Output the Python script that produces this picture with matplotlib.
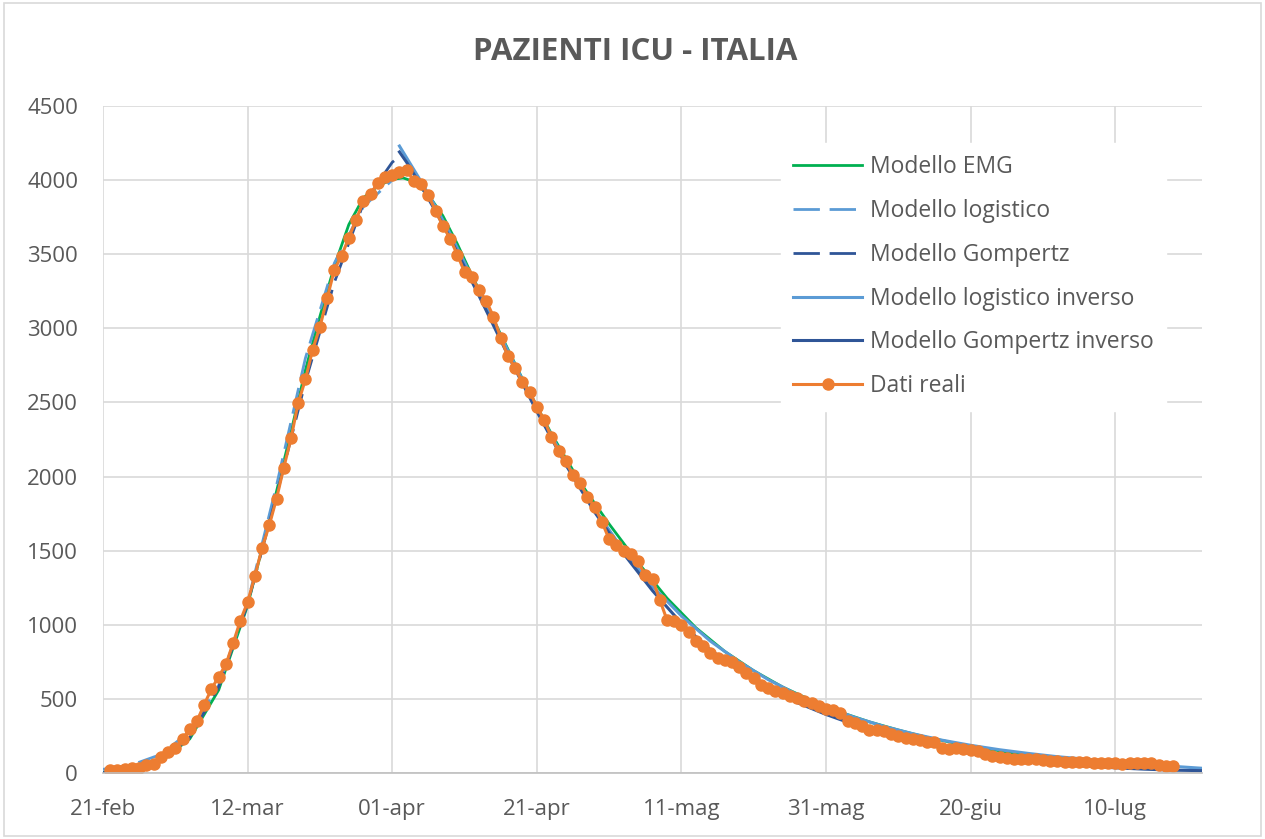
import matplotlib
matplotlib.use("Agg")
import matplotlib.pyplot as plt
import pandas as pd
from matplotlib.patches import Rectangle

plt.rcParams["font.family"] = ["Open Sans", "DejaVu Sans"]

# pazienti in terapia intensiva, un valore al giorno dal 22-feb al 18-lug
inizio_dati = "2020-02-22"
dati_reali = [
    17, 22, 26, 35, 36, 56, 64, 105, 140, 166,
    229, 295, 351, 462, 567, 650, 733, 877, 1028, 1153,
    1328, 1518, 1672, 1851, 2060, 2257, 2498, 2655, 2857, 3009,
    3204, 3396, 3489, 3612, 3732, 3856, 3906, 3981, 4023, 4035,
    4053, 4068, 3994, 3977, 3898, 3792, 3693, 3605, 3497, 3381,
    3343, 3260, 3186, 3079, 2936, 2812, 2733, 2635, 2573, 2471,
    2384, 2267, 2173, 2102, 2009, 1956, 1863, 1795, 1694, 1578,
    1539, 1501, 1479, 1427, 1333, 1311, 1168, 1034, 1027, 999,
    952, 893, 855, 808, 775, 762, 749, 716, 676, 640,
    595, 572, 553, 541, 521, 505, 489, 475, 450, 435,
    424, 408, 353, 338, 316, 293, 287, 283, 263, 249,
    236, 227, 220, 209, 207, 168, 163, 168, 161, 152,
    148, 127, 115, 107, 103, 97, 94, 93, 94, 87,
    82, 79, 77, 74, 71, 71, 69, 67, 65, 65,
    64, 65, 67, 66, 65, 54, 50, 48,
]

# curve dei modelli: giorni dal 21-feb e valori
giorni_emg = [0, 4, 8, 12, 16, 20, 24, 26, 28, 30, 32, 34, 36, 38, 40, 41.5, 43, 45, 47, 49,
              51, 54, 58, 62, 66, 70, 74, 78, 82, 86, 90, 94, 98, 102, 106, 110, 114, 118,
              122, 126, 130, 134, 138, 142, 146, 148]
emg = [5, 25, 80, 230, 560, 1130, 1900, 2300, 2720, 3080, 3420, 3700, 3880, 3960, 4005, 4015,
       3990, 3900, 3760, 3570, 3360, 3060, 2660, 2290, 1960, 1680, 1420, 1180, 980, 820, 690,
       580, 490, 410, 345, 290, 240, 200, 165, 135, 110, 92, 78, 66, 56, 52]

giorni_crescita = [0, 4, 8, 12, 16, 20, 24, 28, 32, 36, 40, 41]
logistico = [25, 55, 125, 280, 590, 1150, 1940, 2800, 3440, 3820, 4000, 4030]
gompertz = [3, 20, 80, 240, 580, 1140, 1870, 2640, 3310, 3840, 4120, 4160]

giorni_calo = [41, 42, 44, 46, 48, 52, 56, 60, 64, 68, 72, 76, 80, 84, 88, 92, 96, 100, 104,
               108, 112, 116, 120, 124, 128, 132, 136, 140, 144, 148, 152]
logistico_inv = [4230, 4150, 3990, 3820, 3640, 3250, 2850, 2460, 2100, 1780, 1500, 1260, 1060,
                 890, 750, 630, 530, 445, 375, 315, 265, 222, 187, 157, 132, 110, 93, 78, 62,
                 45, 32]
gompertz_inv = [4190, 4120, 3960, 3790, 3610, 3220, 2820, 2440, 2080, 1760, 1480, 1230, 1010,
                830, 690, 575, 475, 395, 325, 265, 215, 170, 130, 100, 78, 60, 46, 35, 26,
                19, 16]

tick_giorni = [0, 20, 40, 60, 80, 100, 120, 140]
tick_etichette = ["21-feb", "12-mar", "01-apr", "21-apr", "11-mag", "31-mag", "20-giu", "10-lug"]
fine_asse = 152

base = pd.Timestamp("2020-02-21")


def to_date(giorni):
    return base + pd.to_timedelta(giorni, unit="D")


date_dati = pd.date_range(inizio_dati, periods=len(dati_reali), freq="D")

fig = plt.figure(figsize=(12.65, 8.39), dpi=100)
ax = fig.add_axes([103 / 1265, 1 - 773 / 839, 1099 / 1265, 667 / 839])

verde = "#00B050"
azzurro = "#5B9BD5"
blu = "#2F5597"
arancio = "#ED7D31"

ax.plot(to_date(giorni_emg), emg, color=verde, lw=2.0, label="Modello EMG")
ax.plot(to_date(giorni_crescita), logistico, color=azzurro, lw=2.0, dashes=(9.5, 3.5),
        label="Modello logistico")
ax.plot(to_date(giorni_crescita), gompertz, color=blu, lw=2.0, dashes=(9.5, 3.5),
        label="Modello Gompertz")
ax.plot(to_date(giorni_calo), logistico_inv, color=azzurro, lw=2.2, label="Modello logistico inverso")
ax.plot(to_date(giorni_calo), gompertz_inv, color=blu, lw=2.2, label="Modello Gompertz inverso")
ax.plot(date_dati, dati_reali, color=arancio, lw=2.2, marker="o", ms=8, label="Dati reali")

ax.set_xlim(to_date(0), to_date(fine_asse))
ax.set_ylim(0, 4500)
ax.set_yticks(range(0, 4501, 500))
ax.set_xticks(to_date(tick_giorni))
ax.set_xticklabels(tick_etichette)

ax.set_axisbelow(True)
ax.grid(True, color="#d9d9d9", lw=1.2)
for lato in ["top", "right", "left"]:
    ax.spines[lato].set_visible(False)
ax.spines["bottom"].set_color("#bfbfbf")
ax.spines["bottom"].set_linewidth(1.2)
ax.tick_params(axis="both", length=0, labelsize=16, labelcolor="#595959")
ax.tick_params(axis="y", pad=18)
ax.tick_params(axis="x", pad=19)

leg = ax.legend(loc="upper right", bbox_to_anchor=(0.978, 0.962), fontsize=16.5, frameon=True,
                fancybox=False, edgecolor="white", framealpha=1, handlelength=3.0,
                handletextpad=0.35, labelspacing=0.86, borderpad=0.55)
for t in leg.get_texts():
    t.set_color("#595959")

fig.text(0.502, 0.938, "PAZIENTI ICU - ITALIA", ha="center", va="center", fontsize=22.5,
         fontweight="bold", color="#595959")

fig.patches.append(Rectangle((0.003, 0.003), 0.994, 0.994, transform=fig.transFigure,
                             fill=False, edgecolor="#d9d9d9", lw=1.2))

fig.savefig("out.png", dpi=100)
